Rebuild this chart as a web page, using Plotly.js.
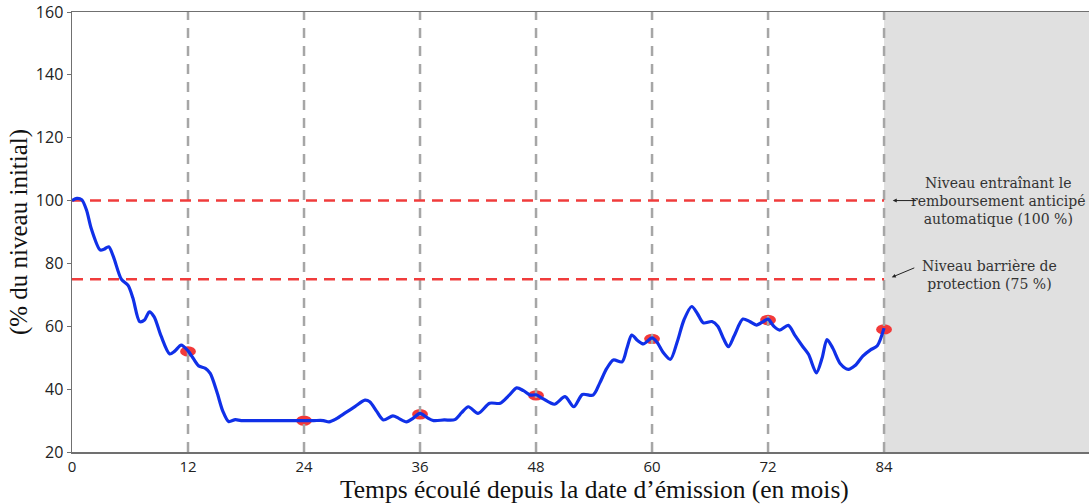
<!DOCTYPE html>
<html>
<head>
<meta charset="utf-8">
<script src="https://cdn.plot.ly/plotly-3.0.1.min.js"></script>
<style>html,body{margin:0;padding:0;background:#fff;}#chart{width:1089px;height:504px;}</style>
</head>
<body>
<div id="chart"></div>
<script>
// Underlying path (% of initial level) by month since issue
const months = [0,0.5,1.0,1.5,2.0,2.9,3.3,3.8,4.3,5.1,5.8,6.3,7.0,7.5,8.0,8.5,9.2,10.1,10.6,11.3,12,12.5,13.1,13.8,14.3,15.0,15.6,16.2,16.9,17.5,20,23,24,25,26.0,26.6,27.3,28.3,29.3,30.3,30.8,31.5,32.2,33.2,33.8,34.6,35.3,36,36.7,37.4,38.5,39.6,40.3,41.0,42.0,43.2,44.3,45.2,46.0,46.7,47.4,48,48.7,49.9,51.0,51.9,52.8,53.9,54.6,55.3,56.0,56.9,57.4,57.9,58.5,59.1,60,60.5,61.2,61.9,62.6,63.3,64.1,64.7,65.3,66.2,66.8,67.4,67.9,68.5,69.4,70.1,70.8,71.5,72,72.6,73.2,74.1,74.8,75.6,76.2,77.0,77.6,78.1,78.7,79.5,80.3,81.0,81.8,82.6,83.3,84];
const levels = [100,100.7,100.3,97,91,84.3,84.5,85.3,82,75,73,69,61.5,62,64.6,63,57,51.2,52,54,52.2,50,47.4,46.6,45,39,33,29.7,30.3,30,30,30,30,30,30,29.6,30.5,32.5,34.5,36.5,36,33,30.2,31.5,30.7,29.6,30.8,32.3,31,30,30.2,30.3,32.5,34.4,32.3,35.5,35.5,38,40.4,39.5,38.1,38.2,37,35.2,37.6,34.4,38.3,38.1,42,46.5,49.3,48.7,53,57.2,55.5,54.4,56.3,55,51.5,49.5,55,62,66.3,64,61.1,61.5,60,56,53.5,57,62.3,61.5,60.4,61.5,62.3,60,58.8,60.3,57,53.5,51,45.2,50,55.8,53,48,46.3,47.5,50.5,52.5,53.8,59.4];
// Observation dates and observed levels
const obsMonths = [12,24,36,48,60,72,84];
const obsLevels = [52,30,32,38,56,62,59];
// Thresholds
const autocallLevel = 100;
const barrierLevel = 75;
const maturity = 84;
const xMax = 105.2;
const yTicks = [20,40,60,80,100,120,140,160];
const xTicks = [0,12,24,36,48,60,72,84];
const autocallLabel = 'Niveau entraînant le<br>remboursement anticipé<br>automatique (100 %)';
const barrierLabel = 'Niveau barrière de<br>protection (75 %)';
const xTitle = 'Temps écoulé depuis la date d’émission (en mois)';
const yTitle = '(% du niveau initial)';

const traces = [];
// vertical dashed observation lines
const vx = [], vy = [];
obsMonths.forEach(m => { vx.push(m, m, null); vy.push(20, 160, null); });
traces.push({x: vx, y: vy, mode: 'lines', line: {color: '#a6a6a6', width: 2.5, dash: '10px,8px'}, hoverinfo: 'skip', showlegend: false});
// horizontal red dashed thresholds
traces.push({x: [0, maturity, null, 0, maturity], y: [autocallLevel, autocallLevel, null, barrierLevel, barrierLevel], mode: 'lines', line: {color: '#f03c3c', width: 2.5, dash: '11px,7px'}, hoverinfo: 'skip', showlegend: false});
// path
traces.push({x: months, y: levels, mode: 'lines', line: {color: '#1030e8', width: 3.2, shape: 'spline', smoothing: 0.8}, showlegend: false});

const shapes = [
  {type: 'rect', xref: 'x', yref: 'paper', x0: maturity, x1: xMax, y0: 0, y1: 1, fillcolor: '#e0e0e0', line: {width: 0}, layer: 'below'}
];
obsMonths.forEach((m, i) => {
  shapes.push({type: 'circle', xref: 'x', yref: 'y', x0: m - 0.82, x1: m + 0.82, y0: obsLevels[i] - 1.65, y1: obsLevels[i] + 1.65, fillcolor: '#f23a3a', line: {width: 0}, layer: 'below'});
});

const serif = 'DejaVu Serif, Liberation Serif, serif';
const titleSerif = 'Liberation Serif, DejaVu Serif, serif';
const annotations = [
  {xref: 'x', yref: 'y', x: 95.8, y: autocallLevel, text: autocallLabel, showarrow: false, font: {family: serif, size: 14, color: '#333'}, align: 'center', xanchor: 'center', yanchor: 'middle'},
  {xref: 'x', yref: 'y', x: 94.9, y: barrierLevel + 1.3, text: barrierLabel, showarrow: false, font: {family: serif, size: 14, color: '#333'}, align: 'center', xanchor: 'center', yanchor: 'middle'},
  {xref: 'x', yref: 'y', x: maturity + 0.9, y: autocallLevel, ax: 25, ay: 0, text: '', showarrow: true, arrowhead: 2, arrowsize: 0.8, arrowwidth: 1, arrowcolor: '#222'},
  {xref: 'x', yref: 'y', x: maturity + 0.8, y: barrierLevel + 0.6, ax: 24, ay: -10, text: '', showarrow: true, arrowhead: 2, arrowsize: 0.8, arrowwidth: 1, arrowcolor: '#222'},
  {xref: 'paper', yref: 'paper', x: 0.514, y: -0.085, yanchor: 'middle', xanchor: 'center', text: xTitle, showarrow: false, font: {family: titleSerif, size: 25.5, color: '#111'}}
];

const layout = {
  width: 1089, height: 504,
  margin: {l: 72, r: 0, t: 12, b: 52, pad: 0},
  paper_bgcolor: '#fff', plot_bgcolor: '#fff',
  showlegend: false,
  xaxis: {range: [0, xMax], tickvals: xTicks, ticktext: xTicks.map(String), showgrid: false, zeroline: false,
          showline: true, linecolor: '#707070', linewidth: 1.5, mirror: true, ticks: '',
          tickfont: {family: 'Open Sans, DejaVu Sans, sans-serif', size: 15, color: '#222'}},
  yaxis: {range: [20, 160], tickvals: yTicks, showgrid: false, zeroline: false,
          showline: true, linecolor: '#707070', linewidth: 1.5, ticks: 'outside', ticklen: 4, tickcolor: '#707070',
          tickfont: {family: 'Open Sans, DejaVu Sans, sans-serif', size: 16, color: '#222'},
          title: {text: yTitle, font: {family: titleSerif, size: 25, color: '#111'}, standoff: 1}},
  shapes: shapes,
  annotations: annotations
};

Plotly.newPlot('chart', traces, layout, {displayModeBar: false, staticPlot: true});
</script>
</body>
</html>
